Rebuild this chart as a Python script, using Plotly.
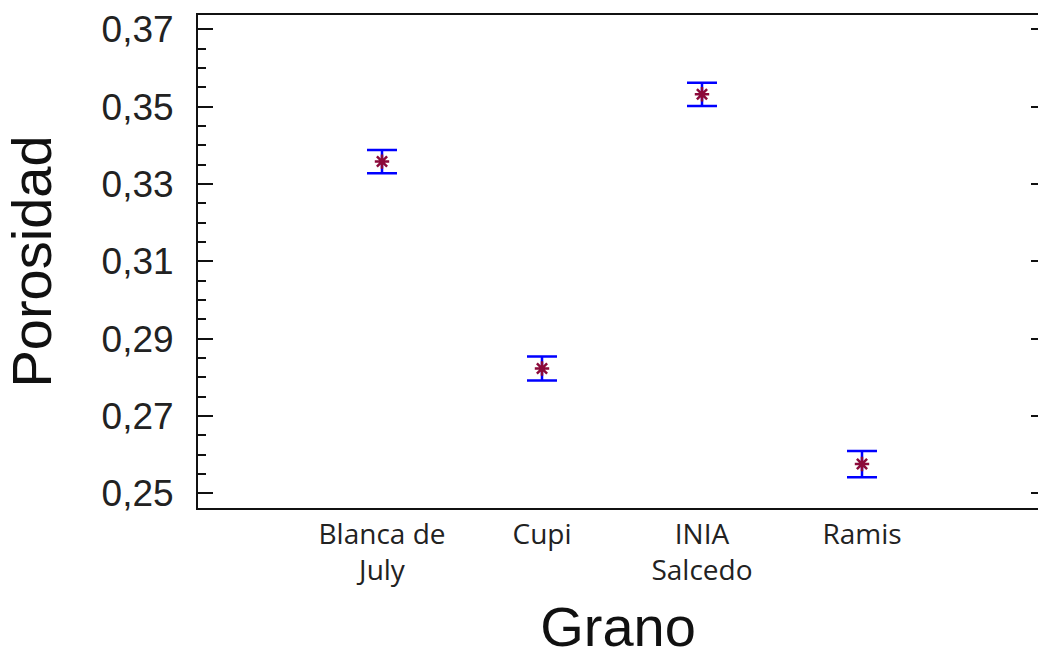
import plotly.graph_objects as go

categories = ["Blanca de<br>July", "Cupi", "INIA<br>Salcedo", "Ramis"]
means = [0.3358, 0.2823, 0.3532, 0.2576]
errors = [0.0030, 0.0031, 0.0030, 0.0034]
y_range = [0.24623, 0.3737]
y_ticks = [0.25, 0.27, 0.29, 0.31, 0.33, 0.35, 0.37]
y_ticktext = ["0,25", "0,27", "0,29", "0,31", "0,33", "0,35", "0,37"]

fig = go.Figure()
fig.add_trace(go.Scatter(
    x=categories, y=means, mode="markers",
    marker=dict(symbol="asterisk-open", size=12, color="#8B0A3A",
                line=dict(color="#8B0A3A", width=2.5)),
    error_y=dict(type="data", array=errors, visible=True,
                 color="#0000FF", thickness=2.5, width=15),
    showlegend=False,
))
# invisible helper trace so the right-hand tick axis is drawn
fig.add_trace(go.Scatter(
    x=categories, y=means, yaxis="y2", mode="markers",
    marker=dict(opacity=0), hoverinfo="skip", showlegend=False,
))

fig.update_layout(
    width=1038, height=658,
    margin=dict(l=198, r=0, t=15, b=146),
    plot_bgcolor="white", paper_bgcolor="white",
    xaxis=dict(
        type="category", range=[-1.15, 4.1],
        showline=True, linecolor="#111", linewidth=2, mirror=True,
        ticks="", showgrid=False, zeroline=False,
        tickfont=dict(family="Open Sans", size=28, color="#222"),
        title=dict(text="Grano", font=dict(family="Liberation Sans", size=56, color="#111"),
                   standoff=31),
    ),
    yaxis=dict(
        range=y_range, tickvals=y_ticks, ticktext=y_ticktext,
        showline=True, linecolor="#111", linewidth=2, mirror=False,
        ticks="inside", ticklen=15, tickwidth=2, tickcolor="#111",
        minor=dict(dtick=0.005, tick0=0.25, ticks="inside", ticklen=8,
                   tickwidth=2, tickcolor="#111", showgrid=False),
        showgrid=False, zeroline=False,
        ticklabelstandoff=15,
        tickfont=dict(family="Liberation Sans", size=37, color="#222"),
        title=dict(text="Porosidad", font=dict(family="Liberation Sans", size=56, color="#111"),
                   standoff=47),
    ),
    yaxis2=dict(
        overlaying="y", side="right", range=y_range, tickvals=y_ticks,
        showticklabels=False, showline=False, showgrid=False, zeroline=False,
        ticks="inside", ticklen=7, tickwidth=2, tickcolor="#111",
    ),
)

fig.write_html(
    "out.html",
    config={"displayModeBar": False},
    post_script="document.body.style.margin='0';",
)
